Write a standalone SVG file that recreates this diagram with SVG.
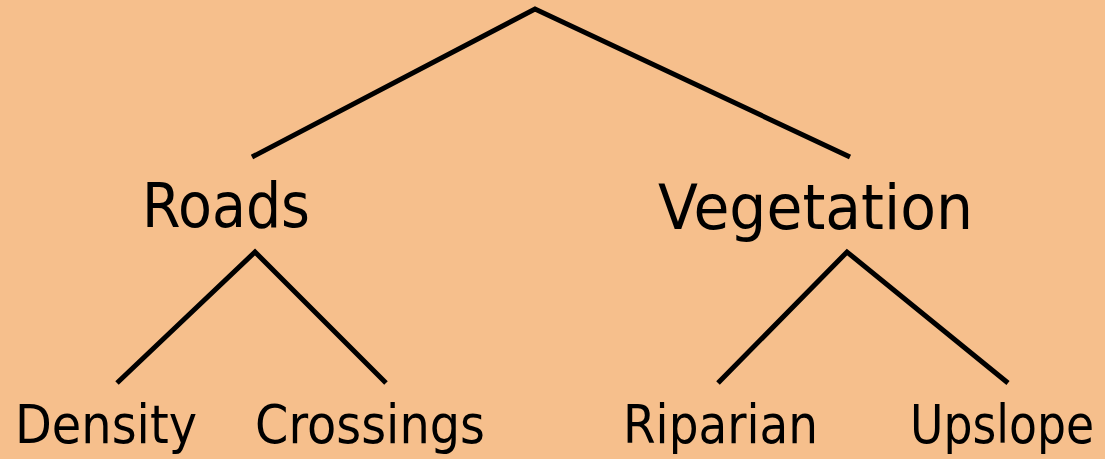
<svg xmlns="http://www.w3.org/2000/svg" width="1105" height="459" viewBox="0 0 1105 459">
<style>
.l{stroke:#000;stroke-width:5;fill:none;stroke-linecap:butt;stroke-linejoin:miter}
.t{font-family:"Comic Sans MS","DejaVu Sans",sans-serif;fill:#000}
.big{font-size:62px}
.small{font-size:53px}
</style>
<rect width="1105" height="459" fill="#F6BF8C"/>
<g id="connectors">
<polyline class="l" points="252,157 535,9 850,157"/>
<polyline class="l" points="117,383 255,252 386,383"/>
<polyline class="l" points="718,383 847,252 1008,383"/>
</g>
<g id="roads"><text class="t big" x="142" y="227" textLength="168" lengthAdjust="spacingAndGlyphs">Roads</text></g>
<g id="vegetation"><text class="t big" x="658" y="229" textLength="315" lengthAdjust="spacingAndGlyphs">Vegetation</text></g>
<g id="density"><text class="t small" x="15" y="443" textLength="182" lengthAdjust="spacingAndGlyphs">Density</text></g>
<g id="crossings"><text class="t small" x="255" y="443" textLength="230" lengthAdjust="spacingAndGlyphs">Crossings</text></g>
<g id="riparian"><text class="t small" x="623" y="443" textLength="195" lengthAdjust="spacingAndGlyphs">Riparian</text></g>
<g id="upslope"><text class="t small" x="910" y="443" textLength="184" lengthAdjust="spacingAndGlyphs">Upslope</text></g>
</svg>
